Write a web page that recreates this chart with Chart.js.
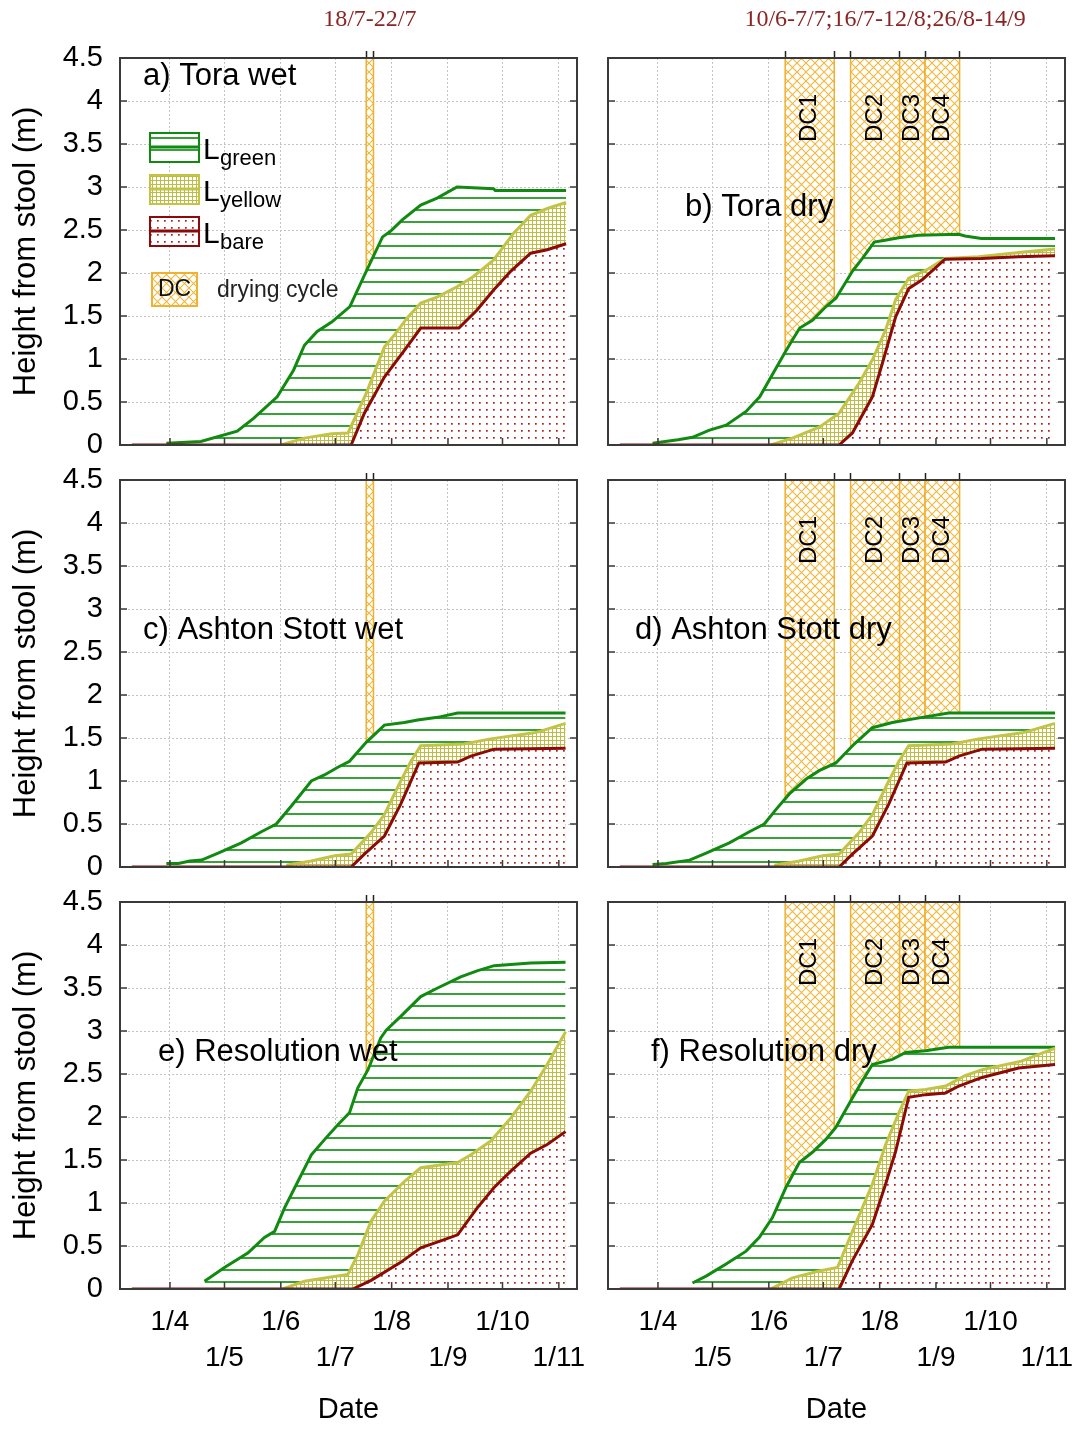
<!DOCTYPE html>
<html>
<head>
<meta charset="utf-8">
<script src="https://cdn.jsdelivr.net/npm/chart.js@4.4.1/dist/chart.umd.min.js"></script>
<style>
  body { margin: 0; background: #fff; }
  #wrap { position: relative; width: 1080px; height: 1430px; overflow: hidden; }
  #wrap canvas { position: absolute; }
</style>
</head>
<body>
<div id="wrap"></div>
<script>
// x axis is day of year; month starts carry the labels
const monthDays = [91, 121, 152, 182, 213, 244, 274, 305];
const monthLabels = ['1/4', '1/5', '1/6', '1/7', '1/8', '1/9', '1/10', '1/11'];
const dayMin = 63.5, dayMax = 315;

// drying cycles, [start day, end day]
const wetCycles = [[199, 203]];
const dryCycles = [[161, 188], [197, 224], [224, 238], [238, 257]];
const dryCycleNames = ['DC1', 'DC2', 'DC3', 'DC4'];
const wetCycleText = '18/7-22/7';
const dryCycleText = '10/6-7/7;16/7-12/8;26/8-14/9';

// [day, height from stool (m)]
const toraWetGreen = [[89,0.02],[108,0.04],[128,0.16],[137,0.31],[150,0.56],[159,0.87],[165,1.16],[172,1.32],[180,1.43],[190,1.61],[199,2.02],[208,2.42],[212,2.48],[219,2.62],[229,2.79],[238,2.87],[249,3.0],[269,2.98],[270,2.96],[309,2.96]];
const toraWetYellow = [[152,0],[165,0.08],[180,0.13],[189,0.14],[199,0.6],[209,1.14],[214.5,1.28],[222,1.49],[229,1.65],[238,1.72],[249,1.84],[258,1.96],[269,2.15],[280,2.46],[289.5,2.67],[298.6,2.75],[309,2.82]];
const toraWetBare = [[70,0],[190.7,0],[198,0.37],[209,0.79],[220,1.1],[229,1.36],[250,1.36],[260,1.57],[269,1.8],[278.5,2.02],[289.5,2.23],[298.6,2.27],[309,2.34]];

const toraDryGreen = [[88,0.02],[102,0.06],[110,0.09],[119,0.17],[128.5,0.23],[139.5,0.39],[147,0.56],[161.5,1.1],[169,1.36],[176,1.45],[183.5,1.61],[189,1.71],[198,2.02],[203.5,2.17],[210,2.36],[216,2.38],[223.5,2.41],[234.5,2.44],[256.5,2.45],[260,2.43],[269,2.4],[309.5,2.4]];
const toraDryYellow = [[153,0],[165,0.08],[180,0.21],[190.7,0.37],[201.7,0.72],[209,0.99],[216.3,1.34],[221.8,1.69],[229,1.94],[238.3,2.03],[249,2.17],[267.5,2.19],[291,2.24],[309.5,2.28]];
const toraDryBare = [[70,0],[190.7,0],[198,0.14],[209,0.56],[214.5,0.95],[221.8,1.49],[229,1.82],[236.4,1.92],[249,2.16],[269,2.17],[289.5,2.19],[309.5,2.2]];

const ashtonWetGreen = [[89,0.04],[95.6,0.04],[102,0.07],[108.4,0.08],[117.5,0.16],[130.3,0.28],[141.3,0.41],[149.5,0.5],[157.8,0.71],[168.8,1.0],[176,1.07],[183.4,1.16],[189.8,1.23],[199,1.45],[209,1.65],[220,1.68],[227.3,1.71],[238.3,1.74],[249.3,1.79],[308.7,1.79]];
const ashtonWetYellow = [[155,0.02],[168.8,0.07],[181.6,0.13],[190.7,0.15],[201.7,0.4],[209,0.61],[218,1.0],[223.6,1.23],[229,1.41],[252.8,1.43],[267.5,1.49],[291.3,1.56],[295,1.58],[308.7,1.67]];
const ashtonWetBare = [[70,0],[190.7,0],[198,0.15],[209,0.36],[218,0.73],[228,1.21],[249.3,1.22],[256.6,1.29],[269.4,1.37],[308.7,1.38]];

const ashtonDryGreen = [[88,0.03],[95.6,0.04],[108.4,0.08],[117.5,0.16],[130.3,0.28],[141.3,0.41],[149.5,0.5],[156,0.67],[163.3,0.85],[172.4,1.02],[179.7,1.12],[188.9,1.21],[199,1.43],[209,1.62],[220,1.68],[236.4,1.74],[251,1.79],[309.5,1.79]];
const ashtonDryYellow = [[155,0.02],[168.8,0.07],[181.6,0.13],[190.7,0.15],[201.7,0.4],[209,0.61],[218,1.0],[223.6,1.23],[229,1.41],[252.8,1.43],[267.5,1.49],[291.3,1.56],[295,1.58],[309.5,1.67]];
const ashtonDryBare = [[70,0],[190.7,0],[198,0.15],[209,0.36],[218,0.73],[228,1.21],[249.3,1.22],[256.6,1.29],[269.4,1.37],[309.5,1.38]];

const resolutionWetGreen = [[110,0.09],[121,0.25],[134,0.42],[143,0.6],[148.6,0.67],[154,0.94],[161.4,1.25],[168.8,1.56],[177,1.76],[183.4,1.91],[189.8,2.05],[194.4,2.34],[200,2.55],[207,2.92],[210,3.01],[218,3.17],[229,3.4],[238.3,3.5],[251,3.63],[260,3.7],[269.4,3.76],[289.5,3.79],[308.7,3.8]];
const resolutionWetYellow = [[153,0],[165,0.09],[179.7,0.14],[188.9,0.17],[194.4,0.4],[201.7,0.79],[209,1.02],[220,1.25],[229,1.41],[249.3,1.47],[256.6,1.56],[267.5,1.72],[278.6,1.99],[289.5,2.3],[298.6,2.61],[308.7,2.99]];
const resolutionWetBare = [[70,0],[191.6,0],[201.7,0.1],[218,0.31],[229,0.48],[240,0.56],[249.3,0.63],[260,0.94],[269.4,1.18],[278.6,1.37],[289.5,1.58],[298.6,1.68],[308.7,1.83]];

const resolutionDryGreen = [[110,0.07],[117.5,0.15],[128.5,0.29],[139.5,0.44],[146.8,0.6],[154,0.83],[161.4,1.18],[168.8,1.47],[176,1.59],[183.4,1.74],[188.9,1.88],[198,2.22],[203.5,2.42],[209,2.61],[220,2.67],[227.3,2.75],[238.3,2.77],[251,2.81],[309.5,2.81]];
const resolutionDryYellow = [[153,0],[165,0.13],[179.7,0.21],[189.8,0.25],[198,0.67],[209,1.22],[216.3,1.68],[223.6,2.05],[229,2.3],[238.3,2.32],[249.3,2.36],[260,2.48],[269.4,2.55],[291,2.65],[309.5,2.8]];
const resolutionDryBare = [[70,0],[190.7,0],[198,0.33],[209,0.75],[216.3,1.22],[221.8,1.6],[229,2.23],[238.3,2.26],[249.3,2.28],[256.6,2.36],[269.4,2.46],[289.5,2.57],[309.5,2.61]];

// colours
const greenLine = '#118a11', greenHatchCol = '#38a238';
const yellowLine = '#c3c346', yellowGridCol = '#bdbd45';
const bareLine = '#8c0a0a', bareDotCol = '#a81c1c';
const dcCol = '#f2b73a', dcEdge = '#f0b030';
const frameCol = '#3a3a3a';
const SANS = '"Liberation Sans", Arial, sans-serif';
Chart.defaults.font.family = SANS;
Chart.defaults.color = '#000';

function makePattern(w, h, draw) {
  const c = document.createElement('canvas');
  c.width = w; c.height = h;
  const g = c.getContext('2d');
  g.fillStyle = '#fff';
  g.fillRect(0, 0, w, h);
  draw(g);
  return g.createPattern(c, 'repeat');
}
const greenHatch = makePattern(8, 12, g => { g.fillStyle = greenHatchCol; g.fillRect(0, 5, 8, 2); });
const yellowGrid = makePattern(4, 4, g => { g.fillStyle = yellowGridCol; g.fillRect(0, 0, 4, 1); g.fillRect(0, 0, 1, 4); });
const bareDots = makePattern(7, 7, g => { g.fillStyle = bareDotCol; g.fillRect(3, 3, 1.7, 1.7); });
const dcHatch = makePattern(9, 9, g => {
  g.strokeStyle = dcCol; g.lineWidth = 1.1;
  g.beginPath();
  g.moveTo(-1, -1); g.lineTo(10, 10);
  g.moveTo(10, -1); g.lineTo(-1, 10);
  g.stroke();
});

const cols = [
  { left: 0, width: 590, plotLeft: 120, plotRight: 577 },
  { left: 590, width: 490, plotLeft: 608, plotRight: 1065 }
];
const rows = [
  { top: 0, height: 460, plotTop: 58, plotBottom: 445 },
  { top: 460, height: 420, plotTop: 480, plotBottom: 867 },
  { top: 880, height: 550, plotTop: 902, plotBottom: 1289 }
];

const panels = [
  { row: 0, col: 0, name: 'a) Tora wet', nameAt: [23, 18], green: toraWetGreen, yellow: toraWetYellow, bare: toraWetBare, cycles: wetCycles, header: wetCycleText, headerDay: 201, legend: true },
  { row: 0, col: 1, name: 'b) Tora dry', nameAt: [77, 149], green: toraDryGreen, yellow: toraDryYellow, bare: toraDryBare, cycles: dryCycles, names: dryCycleNames, header: dryCycleText, headerDay: 216 },
  { row: 1, col: 0, name: 'c) Ashton Stott wet', nameAt: [23, 150], green: ashtonWetGreen, yellow: ashtonWetYellow, bare: ashtonWetBare, cycles: wetCycles },
  { row: 1, col: 1, name: 'd) Ashton Stott dry', nameAt: [27, 150], green: ashtonDryGreen, yellow: ashtonDryYellow, bare: ashtonDryBare, cycles: dryCycles, names: dryCycleNames },
  { row: 2, col: 0, name: 'e) Resolution wet', nameAt: [38, 150], green: resolutionWetGreen, yellow: resolutionWetYellow, bare: resolutionWetBare, cycles: wetCycles },
  { row: 2, col: 1, name: 'f) Resolution dry', nameAt: [43, 150], green: resolutionDryGreen, yellow: resolutionDryYellow, bare: resolutionDryBare, cycles: dryCycles, names: dryCycleNames }
];

function series(points, color, pattern, order) {
  return {
    data: points.map(p => ({ x: p[0], y: p[1] })),
    borderColor: color,
    borderWidth: 3,
    backgroundColor: pattern,
    fill: 'origin',
    pointRadius: 0,
    tension: 0,
    order: order
  };
}

// legend block of panel a
function drawLegend(ctx, a) {
  const bx = a.left + 30, bw = 49;
  const rowsL = [
    { y: a.top + 75, fill: greenHatch, col: greenLine, sub: 'green' },
    { y: a.top + 117, fill: yellowGrid, col: yellowLine, sub: 'yellow' },
    { y: a.top + 159, fill: bareDots, col: bareLine, sub: 'bare' }
  ];
  rowsL.forEach(r => {
    ctx.fillStyle = r.fill;
    ctx.fillRect(bx, r.y, bw, 29);
    ctx.strokeStyle = r.col; ctx.lineWidth = 2;
    ctx.strokeRect(bx, r.y, bw, 29);
    ctx.lineWidth = 3;
    ctx.beginPath(); ctx.moveTo(bx, r.y + 14); ctx.lineTo(bx + bw, r.y + 14); ctx.stroke();
    ctx.fillStyle = '#000';
    ctx.textAlign = 'left'; ctx.textBaseline = 'alphabetic';
    ctx.font = '30px ' + SANS;
    ctx.fillText('L', bx + 53, r.y + 26);
    ctx.font = '22px ' + SANS;
    ctx.fillText(r.sub, bx + 70, r.y + 32);
  });
  const dy = a.top + 215;
  ctx.fillStyle = dcHatch;
  ctx.fillRect(bx + 2, dy, 45, 33);
  ctx.strokeStyle = dcEdge; ctx.lineWidth = 2;
  ctx.strokeRect(bx + 2, dy, 45, 33);
  ctx.fillStyle = '#111';
  ctx.font = '23px ' + SANS;
  ctx.textAlign = 'center'; ctx.textBaseline = 'middle';
  ctx.fillText('DC', bx + 24.5, dy + 17);
  ctx.textAlign = 'left';
  ctx.fillStyle = '#222';
  ctx.fillText('drying cycle', bx + 67, dy + 18);
}

function decor(p) {
  return {
    id: 'decor',
    beforeDatasetsDraw(chart) {
      const { ctx, chartArea: a, scales: { x } } = chart;
      ctx.save();
      p.cycles.forEach(c => {
        const x0 = x.getPixelForValue(c[0]), x1 = x.getPixelForValue(c[1]);
        ctx.fillStyle = dcHatch;
        ctx.fillRect(x0, a.top, x1 - x0, a.bottom - a.top);
        ctx.strokeStyle = dcEdge; ctx.lineWidth = 1.5;
        ctx.beginPath();
        ctx.moveTo(x0, a.top); ctx.lineTo(x0, a.bottom);
        ctx.moveTo(x1, a.top); ctx.lineTo(x1, a.bottom);
        ctx.stroke();
      });
      ctx.restore();
    },
    afterDraw(chart) {
      const { ctx, chartArea: a, scales: { x, y } } = chart;
      ctx.save();
      // frame and inward ticks
      ctx.strokeStyle = frameCol; ctx.lineWidth = 2;
      ctx.strokeRect(a.left, a.top, a.right - a.left, a.bottom - a.top);
      ctx.lineWidth = 1.5;
      ctx.beginPath();
      x.ticks.forEach(t => {
        const px = x.getPixelForValue(t.value);
        ctx.moveTo(px, a.bottom); ctx.lineTo(px, a.bottom - 7);
      });
      y.ticks.forEach(t => {
        const py = y.getPixelForValue(t.value);
        ctx.moveTo(a.left, py); ctx.lineTo(a.left + 7, py);
        ctx.moveTo(a.right, py); ctx.lineTo(a.right - 7, py);
      });
      ctx.stroke();
      // cycle names, written upwards
      if (p.names) {
        ctx.fillStyle = '#000';
        ctx.font = '24px ' + SANS;
        ctx.textAlign = 'center'; ctx.textBaseline = 'middle';
        p.cycles.forEach((c, i) => {
          const cx = x.getPixelForValue((c[0] + c[1]) / 2);
          ctx.save();
          ctx.translate(cx, a.top + 60);
          ctx.rotate(-Math.PI / 2);
          ctx.fillText(p.names[i], 0, 0);
          ctx.restore();
        });
      }
      // panel name
      ctx.fillStyle = '#000';
      ctx.font = '31px ' + SANS;
      ctx.textAlign = 'left'; ctx.textBaseline = 'middle';
      ctx.fillText(p.name, a.left + p.nameAt[0], a.top + p.nameAt[1]);
      // cycle dates above the top row
      if (p.header) {
        ctx.fillStyle = '#8b2525';
        ctx.font = '24px "Liberation Serif", "Times New Roman", serif';
        ctx.textAlign = 'center';
        ctx.fillText(p.header, x.getPixelForValue(p.headerDay), a.top - 38);
      }
      if (p.legend) drawLegend(ctx, a);
      ctx.restore();
    }
  };
}

const wrap = document.getElementById('wrap');
panels.forEach(p => {
  const c = cols[p.col], r = rows[p.row];
  const cv = document.createElement('canvas');
  cv.width = c.width; cv.height = r.height;
  cv.style.left = c.left + 'px'; cv.style.top = r.top + 'px';
  wrap.appendChild(cv);
  const bottomRow = p.row === 2, leftCol = p.col === 0;
  const edges = [];
  p.cycles.forEach(cy => cy.forEach(d => { if (!edges.includes(d)) edges.push(d); }));
  const gridOpts = { color: '#c4c4c4', lineWidth: 1, drawTicks: false };

  new Chart(cv, {
    type: 'line',
    data: {
      datasets: [
        series(p.green, greenLine, greenHatch, 3),
        series(p.yellow, yellowLine, yellowGrid, 2),
        series(p.bare, bareLine, bareDots, 1)
      ]
    },
    options: {
      responsive: false,
      animation: false,
      devicePixelRatio: 1,
      layout: { padding: { top: r.plotTop - r.top, right: c.left + c.width - c.plotRight, left: 0, bottom: 0 } },
      plugins: { legend: { display: false }, tooltip: { enabled: false } },
      scales: {
        x: {
          type: 'linear', position: 'bottom', min: dayMin, max: dayMax,
          afterBuildTicks: s => { s.ticks = monthDays.map(v => ({ value: v })); },
          afterFit: s => {
            s.height = r.top + r.height - r.plotBottom;
            s.paddingLeft = 0; s.paddingRight = 0;
          },
          grid: gridOpts,
          border: { display: false, dash: [2, 2] },
          ticks: {
            display: bottomRow, autoSkip: false, maxRotation: 0, padding: 15,
            font: { size: 28, lineHeight: 36 / 28 },
            callback: (v, i) => i % 2 === 0 ? [monthLabels[i], ''] : ['', monthLabels[i]]
          },
          title: { display: bottomRow, text: 'Date', font: { size: 29 }, padding: { top: 0, bottom: 3 } }
        },
        x2: {
          type: 'linear', position: 'top', min: dayMin, max: dayMax,
          afterBuildTicks: s => { s.ticks = edges.map(v => ({ value: v })); },
          afterFit: s => { s.height = 0; s.paddingLeft = 0; s.paddingRight = 0; },
          grid: { drawOnChartArea: false, drawTicks: true, tickLength: 7, tickColor: '#222', tickWidth: 1.5 },
          border: { display: false },
          ticks: { display: false }
        },
        y: {
          min: 0, max: 4.5,
          afterFit: s => {
            s.width = c.plotLeft - c.left;
            s.paddingTop = 0; s.paddingBottom = 0;
          },
          grid: gridOpts,
          border: { display: false, dash: [2, 2] },
          ticks: { display: leftCol, stepSize: 0.5, padding: 17, font: { size: 29 }, callback: v => String(v) },
          title: { display: leftCol, text: 'Height from stool (m)', font: { size: 31 }, padding: { top: 8, bottom: 0 } }
        }
      }
    },
    plugins: [decor(p)]
  });
});
</script>
</body>
</html>
